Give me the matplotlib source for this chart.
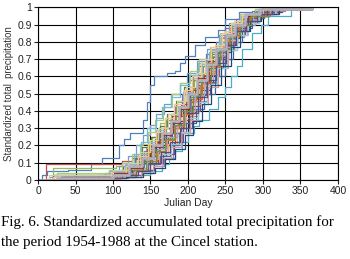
import matplotlib
matplotlib.use("Agg")
import matplotlib.pyplot as plt

# Julian day breakpoints and standardized accumulated precipitation, one list per year
years = list(range(1954, 1989))

days = [
    [0, 5, 12, 40, 70, 85, 100, 108, 115, 123, 136, 140, 145, 150, 155, 172, 183, 190, 196, 210, 223, 240, 250, 268, 285, 310, 330, 365],
    [0, 10, 96, 112, 125, 138, 147, 160, 168, 181, 190, 204, 212, 226, 238, 251, 263, 279, 296, 320, 365],
    [0, 20, 88, 104, 118, 131, 144, 152, 163, 177, 186, 195, 208, 219, 232, 244, 259, 271, 288, 310, 365],
    [0, 30, 80, 100, 116, 129, 141, 150, 161, 170, 183, 192, 201, 213, 224, 238, 250, 264, 280, 300, 365],
    [0, 40, 100, 130, 150, 165, 175, 183, 192, 200, 208, 215, 228, 240, 250, 258, 265, 272, 285, 297, 307, 338, 365],
    [0, 50, 100, 117, 132, 143, 156, 165, 178, 187, 199, 211, 222, 236, 247, 258, 272, 290, 305, 365],
    [0, 60, 110, 126, 139, 152, 161, 174, 186, 196, 210, 221, 233, 247, 258, 270, 284, 300, 322, 365],
    [0, 30, 100, 121, 135, 149, 158, 171, 180, 193, 203, 217, 228, 241, 252, 266, 283, 308, 365],
    [0, 20, 95, 114, 128, 139, 151, 163, 172, 184, 195, 207, 218, 231, 244, 257, 272, 298, 365],
    [0, 45, 110, 131, 147, 160, 171, 183, 193, 206, 216, 229, 240, 254, 266, 281, 298, 325, 365],
    [0, 35, 105, 124, 140, 157, 169, 179, 191, 201, 213, 224, 237, 249, 262, 276, 292, 315, 365],
    [0, 55, 100, 123, 139, 151, 163, 176, 188, 198, 209, 221, 234, 246, 256, 268, 281, 305, 365],
    [0, 15, 90, 108, 120, 131, 140, 149, 158, 168, 177, 189, 199, 212, 226, 241, 255, 270, 290, 365],
    [0, 40, 110, 129, 145, 158, 170, 181, 194, 204, 216, 227, 239, 251, 264, 278, 296, 312, 365],
    [0, 25, 95, 112, 126, 136, 147, 156, 167, 179, 190, 203, 215, 229, 243, 257, 270, 290, 365],
    [0, 50, 115, 138, 154, 168, 180, 192, 203, 214, 226, 238, 249, 261, 275, 290, 310, 330, 365],
    [0, 30, 100, 116, 128, 137, 146, 157, 166, 178, 190, 201, 214, 228, 241, 255, 270, 288, 310, 365],
    [0, 60, 110, 132, 149, 162, 173, 185, 197, 207, 218, 230, 241, 252, 265, 279, 294, 310, 365],
    [0, 35, 105, 129, 147, 163, 176, 188, 198, 211, 222, 236, 249, 260, 272, 286, 301, 318, 365],
    [0, 20, 100, 118, 133, 146, 156, 168, 179, 191, 203, 214, 227, 239, 252, 266, 281, 302, 365],
    [0, 40, 100, 119, 136, 148, 159, 171, 184, 195, 207, 220, 232, 246, 259, 273, 288, 305, 365],
    [0, 50, 120, 139, 155, 167, 181, 193, 205, 216, 229, 241, 253, 266, 279, 294, 318, 365],
    [0, 25, 105, 124, 141, 155, 167, 178, 190, 203, 214, 226, 240, 252, 266, 282, 308, 365],
    [0, 45, 110, 130, 146, 159, 171, 183, 195, 207, 219, 231, 243, 255, 268, 283, 305, 365],
    [0, 30, 95, 116, 133, 147, 158, 170, 182, 194, 206, 219, 231, 244, 257, 271, 294, 365],
    [0, 55, 115, 137, 153, 166, 178, 191, 203, 214, 227, 240, 253, 265, 279, 294, 318, 365],
    [0, 15, 100, 120, 136, 149, 160, 173, 186, 198, 211, 223, 236, 249, 262, 277, 300, 365],
    [0, 35, 108, 129, 146, 160, 172, 185, 196, 209, 221, 234, 246, 259, 272, 287, 310, 365],
    [0, 40, 112, 134, 150, 164, 177, 189, 201, 213, 226, 239, 252, 266, 280, 295, 316, 365],
    [0, 20, 98, 118, 134, 147, 158, 170, 182, 195, 206, 218, 231, 245, 258, 272, 296, 365],
    [0, 60, 118, 140, 156, 170, 183, 196, 207, 219, 231, 244, 257, 270, 283, 298, 322, 365],
    [0, 30, 102, 123, 140, 153, 165, 177, 189, 201, 214, 226, 238, 250, 264, 280, 306, 365],
    [0, 45, 106, 127, 144, 158, 170, 183, 195, 207, 218, 231, 243, 256, 269, 284, 308, 365],
    [0, 50, 112, 133, 150, 164, 176, 189, 201, 213, 225, 238, 251, 264, 277, 292, 312, 365],
    [0, 25, 100, 121, 139, 153, 165, 177, 188, 200, 212, 225, 238, 251, 263, 276, 296, 365],
]

precip = [
    [0, 0.03, 0.05, 0.06, 0.09, 0.13, 0.13, 0.2, 0.24, 0.27, 0.27, 0.35, 0.45, 0.55, 0.6, 0.62, 0.63, 0.68, 0.72, 0.78, 0.83, 0.87, 0.93, 0.97, 0.98, 0.99, 1.0, 1.0],
    [0, 0.09, 0.09, 0.11, 0.13, 0.16, 0.2, 0.24, 0.3, 0.35, 0.42, 0.47, 0.55, 0.62, 0.7, 0.78, 0.86, 0.92, 0.96, 0.99, 1.0],
    [0, 0.07, 0.07, 0.08, 0.1, 0.14, 0.19, 0.25, 0.33, 0.38, 0.45, 0.52, 0.58, 0.66, 0.72, 0.8, 0.87, 0.92, 0.96, 0.99, 1.0],
    [0, 0.01, 0.03, 0.05, 0.08, 0.12, 0.17, 0.2, 0.27, 0.33, 0.42, 0.5, 0.58, 0.66, 0.73, 0.8, 0.88, 0.93, 0.96, 0.99, 1.0],
    [0, 0.01, 0.02, 0.03, 0.05, 0.09, 0.13, 0.17, 0.22, 0.27, 0.31, 0.35, 0.41, 0.48, 0.54, 0.6, 0.66, 0.76, 0.85, 0.9, 0.95, 1.0, 1.0],
    [0, 0.01, 0.03, 0.05, 0.09, 0.14, 0.2, 0.25, 0.31, 0.38, 0.45, 0.54, 0.62, 0.7, 0.78, 0.86, 0.92, 0.96, 0.99, 1.0],
    [0, 0.01, 0.03, 0.06, 0.1, 0.14, 0.19, 0.25, 0.32, 0.39, 0.48, 0.56, 0.65, 0.74, 0.82, 0.89, 0.94, 0.97, 0.99, 1.0],
    [0, 0.02, 0.04, 0.07, 0.11, 0.16, 0.22, 0.27, 0.34, 0.41, 0.49, 0.57, 0.65, 0.74, 0.82, 0.9, 0.95, 0.99, 1.0],
    [0, 0.03, 0.05, 0.08, 0.13, 0.19, 0.25, 0.31, 0.38, 0.46, 0.54, 0.61, 0.68, 0.75, 0.83, 0.9, 0.95, 0.99, 1.0],
    [0, 0.01, 0.02, 0.05, 0.09, 0.14, 0.2, 0.27, 0.35, 0.43, 0.52, 0.61, 0.7, 0.79, 0.87, 0.93, 0.97, 1.0, 1.0],
    [0, 0.02, 0.04, 0.06, 0.1, 0.15, 0.21, 0.27, 0.33, 0.41, 0.49, 0.57, 0.66, 0.75, 0.84, 0.91, 0.96, 0.99, 1.0],
    [0, 0.01, 0.03, 0.06, 0.11, 0.17, 0.23, 0.3, 0.37, 0.45, 0.53, 0.61, 0.71, 0.8, 0.87, 0.92, 0.96, 0.99, 1.0],
    [0, 0.02, 0.04, 0.08, 0.14, 0.2, 0.26, 0.32, 0.38, 0.44, 0.5, 0.56, 0.62, 0.69, 0.76, 0.84, 0.91, 0.96, 0.99, 1.0],
    [0, 0.01, 0.03, 0.06, 0.11, 0.17, 0.24, 0.31, 0.38, 0.46, 0.55, 0.63, 0.72, 0.8, 0.88, 0.94, 0.98, 0.99, 1.0],
    [0, 0.04, 0.06, 0.1, 0.15, 0.21, 0.28, 0.35, 0.42, 0.5, 0.56, 0.63, 0.7, 0.77, 0.85, 0.91, 0.96, 0.99, 1.0],
    [0, 0.01, 0.02, 0.04, 0.08, 0.13, 0.2, 0.28, 0.37, 0.46, 0.56, 0.66, 0.75, 0.83, 0.9, 0.95, 0.98, 1.0, 1.0],
    [0, 0.02, 0.05, 0.09, 0.15, 0.22, 0.3, 0.36, 0.42, 0.48, 0.55, 0.61, 0.68, 0.74, 0.8, 0.86, 0.92, 0.96, 0.99, 1.0],
    [0, 0.01, 0.02, 0.05, 0.09, 0.15, 0.21, 0.28, 0.36, 0.45, 0.55, 0.64, 0.73, 0.81, 0.88, 0.93, 0.97, 0.99, 1.0],
    [0, 0.02, 0.03, 0.05, 0.09, 0.14, 0.2, 0.27, 0.33, 0.41, 0.5, 0.6, 0.7, 0.8, 0.88, 0.94, 0.97, 0.99, 1.0],
    [0, 0.03, 0.05, 0.08, 0.12, 0.18, 0.24, 0.3, 0.37, 0.44, 0.52, 0.6, 0.69, 0.77, 0.85, 0.91, 0.96, 0.99, 1.0],
    [0, 0.02, 0.04, 0.08, 0.14, 0.21, 0.28, 0.35, 0.42, 0.5, 0.58, 0.66, 0.74, 0.82, 0.89, 0.94, 0.97, 0.99, 1.0],
    [0, 0.01, 0.03, 0.06, 0.1, 0.15, 0.22, 0.3, 0.4, 0.5, 0.61, 0.71, 0.8, 0.88, 0.94, 0.97, 0.99, 1.0],
    [0, 0.02, 0.04, 0.07, 0.12, 0.18, 0.25, 0.32, 0.4, 0.48, 0.57, 0.65, 0.74, 0.82, 0.89, 0.95, 0.99, 1.0],
    [0, 0.01, 0.03, 0.06, 0.11, 0.16, 0.23, 0.3, 0.38, 0.47, 0.56, 0.66, 0.75, 0.83, 0.9, 0.95, 0.99, 1.0],
    [0, 0.03, 0.05, 0.09, 0.15, 0.22, 0.29, 0.36, 0.43, 0.51, 0.59, 0.67, 0.75, 0.83, 0.9, 0.95, 0.99, 1.0],
    [0, 0.01, 0.02, 0.04, 0.08, 0.13, 0.19, 0.27, 0.35, 0.44, 0.54, 0.65, 0.75, 0.84, 0.91, 0.96, 0.99, 1.0],
    [0, 0.03, 0.06, 0.1, 0.16, 0.23, 0.3, 0.38, 0.46, 0.54, 0.62, 0.7, 0.78, 0.86, 0.92, 0.96, 0.99, 1.0],
    [0, 0.02, 0.04, 0.07, 0.12, 0.18, 0.25, 0.32, 0.4, 0.49, 0.58, 0.68, 0.77, 0.86, 0.92, 0.96, 0.99, 1.0],
    [0, 0.01, 0.03, 0.05, 0.1, 0.15, 0.21, 0.28, 0.36, 0.45, 0.55, 0.65, 0.75, 0.84, 0.91, 0.96, 0.99, 1.0],
    [0, 0.02, 0.04, 0.08, 0.14, 0.21, 0.28, 0.36, 0.44, 0.52, 0.6, 0.68, 0.77, 0.85, 0.91, 0.96, 0.99, 1.0],
    [0, 0.01, 0.02, 0.04, 0.07, 0.12, 0.18, 0.26, 0.34, 0.44, 0.55, 0.66, 0.77, 0.86, 0.92, 0.96, 0.99, 1.0],
    [0, 0.02, 0.04, 0.07, 0.13, 0.19, 0.26, 0.33, 0.41, 0.5, 0.59, 0.68, 0.76, 0.84, 0.9, 0.95, 0.99, 1.0],
    [0, 0.01, 0.03, 0.06, 0.11, 0.17, 0.24, 0.32, 0.4, 0.49, 0.58, 0.67, 0.76, 0.84, 0.9, 0.95, 0.99, 1.0],
    [0, 0.01, 0.03, 0.05, 0.1, 0.16, 0.22, 0.3, 0.39, 0.48, 0.58, 0.68, 0.78, 0.86, 0.92, 0.96, 0.99, 1.0],
    [0, 0.01, 0.03, 0.08, 0.13, 0.2, 0.27, 0.34, 0.42, 0.5, 0.58, 0.67, 0.76, 0.84, 0.9, 0.96, 0.99, 1.0],
]

colors = [
    '#4F81BD', '#C0504D', '#9BBB59', '#8064A2', '#4BACC6', '#F79646',
    '#2C4D75', '#772C2A', '#5F7530', '#4D3B62', '#276A7C', '#B65708',
    '#729ACA', '#CD7371', '#AFC97A', '#9983B5', '#6FBDD1', '#F9AB6B',
    '#3A679C', '#9E3A38', '#7E9C40', '#664F83', '#358EA6', '#E46C0A',
    '#95B3D7', '#D99694', '#C3D69B', '#B3A2C7', '#93CDDD', '#FAC090',
    '#1F497D', '#943634', '#76923C', '#5F497A', '#B4B0BE',
]

fig = plt.figure(figsize=(3.5, 2.59), dpi=100)
ax = fig.add_axes([0.1086, 0.305, 0.857, 0.667])

for i, yr in enumerate(years):
    lw = 1.8 if i == len(years) - 1 else 0.9
    ax.plot(days[i], precip[i], drawstyle='steps-post', color=colors[i],
            linewidth=lw, label=str(yr))

ax.set_xlim(0, 400)
ax.set_ylim(0, 1)
ax.set_xticks(range(0, 401, 50))
ax.set_yticks([i / 10 for i in range(11)])
ax.set_yticklabels(['0', '0.1', '0.2', '0.3', '0.4', '0.5', '0.6', '0.7', '0.8', '0.9', '1'])
ax.grid(True, color='black', linewidth=0.8)
ax.set_axisbelow(True)
for s in ax.spines.values():
    s.set_color('black')
    s.set_linewidth(0.8)
ax.tick_params(labelsize=7.5, length=3, width=0.8, pad=1.5, colors='#222222')
for lab in ax.get_xticklabels() + ax.get_yticklabels():
    lab.set_family('Liberation Sans')
ax.set_xlabel('Julian Day', family='Liberation Sans', fontsize=7.5, labelpad=1,
              color='#222222')
ax.set_ylabel('Standardized total  precipitation', family='Liberation Sans',
              fontsize=6.9, labelpad=2, color='#333333')

fig.text(0.003, 0.144, 'Fig. 6. Standardized accumulated total precipitation for',
         family='Liberation Serif', fontsize=10.8, va='center', ha='left')
fig.text(0.003, 0.062, 'the period 1954-1988 at the Cincel station.',
         family='Liberation Serif', fontsize=10.8, va='center', ha='left')

fig.savefig('out.png', dpi=100)
